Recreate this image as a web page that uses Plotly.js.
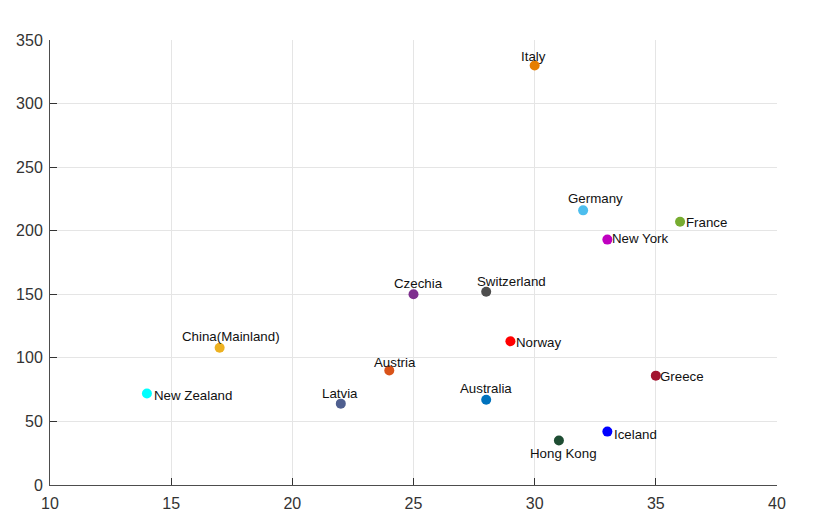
<!DOCTYPE html>
<html>
<head>
<meta charset="utf-8">
<script src="https://cdn.plot.ly/plotly-3.0.1.min.js"></script>
<style>html,body{margin:0;padding:0;background:#fff;}#chart{width:817px;height:531px;}</style>
</head>
<body>
<div id="chart"></div>
<script>
// data
const places = ["Italy","Germany","France","New York","Czechia","Switzerland","China(Mainland)","Norway","Austria","New Zealand","Latvia","Australia","Greece","Hong Kong","Iceland"];
const xValues = [30,32,36,33,25,28,17,29,24,14,22,28,35,31,33];
const yValues = [330,216,207,193,150,152,108,113,90,72,64,67,86,35,42];
const xTicks = [10,15,20,25,30,35,40];
const yTicks = [0,50,100,150,200,250,300,350];

// styles
const colors = ["#E67E00","#4DBEEE","#77AC30","#C000C0","#7E2F8E","#4D4D4D","#EDB120","#FF0000","#D95319","#00FFFF","#4F5F8F","#0072BD","#A2142F","#1E4D33","#0000FF"];
const labelSide = ["top","top","right","right","top","top","top","right","top","right","top","top","right","bottom","right"];
const labelDx = [-1, 12.5, 5.5, 4.5, 5, 25.5, 11, 6, 5.5, 7, -1, 0, 4.5, 5, 6.5];
const labelDy = [8.5, 12, -0.5, 1, 11, 10, 11, -1.2, 8, -2.5, 10, 11, -0.5, -13, -3];

const FONT = "Liberation Sans, Arial, Helvetica, sans-serif";
const trace = {
  x: xValues, y: yValues,
  type: "scatter", mode: "markers",
  marker: {size: 10, color: colors},
  cliponaxis: false,
  hoverinfo: "none"
};
const annotations = places.map((p, i) => ({
  x: xValues[i], y: yValues[i], xref: "x", yref: "y",
  text: p, showarrow: false,
  xanchor: labelSide[i] === "right" ? "left" : "center",
  yanchor: "middle",
  xshift: labelDx[i], yshift: labelDy[i],
  borderpad: 0, borderwidth: 0,
  font: {family: FONT, size: 13.3, color: "#111"}
}));

const axisCommon = {
  showline: true, linecolor: "#4d4d4d", linewidth: 1,
  ticks: "inside", ticklen: 7, tickcolor: "#333", tickwidth: 1,
  showgrid: true, gridcolor: "#e5e5e5", gridwidth: 1,
  zeroline: false, mirror: false,
  tickfont: {family: FONT, size: 16, color: "#333"},
  tickmode: "array"
};
const layout = {
  width: 817, height: 531,
  margin: {l: 50, r: 40, t: 40, b: 46},
  paper_bgcolor: "#fff", plot_bgcolor: "#fff",
  showlegend: false,
  annotations: annotations,
  xaxis: Object.assign({}, axisCommon, {range: [10, 40], tickvals: xTicks, ticktext: xTicks.map(String), ticklabelstandoff: 4}),
  yaxis: Object.assign({}, axisCommon, {range: [0, 350], tickvals: yTicks, ticktext: yTicks.map(String), ticklabelstandoff: 3})
};
Plotly.newPlot("chart", [trace], layout, {displayModeBar: false, staticPlot: true});
</script>
</body>
</html>
